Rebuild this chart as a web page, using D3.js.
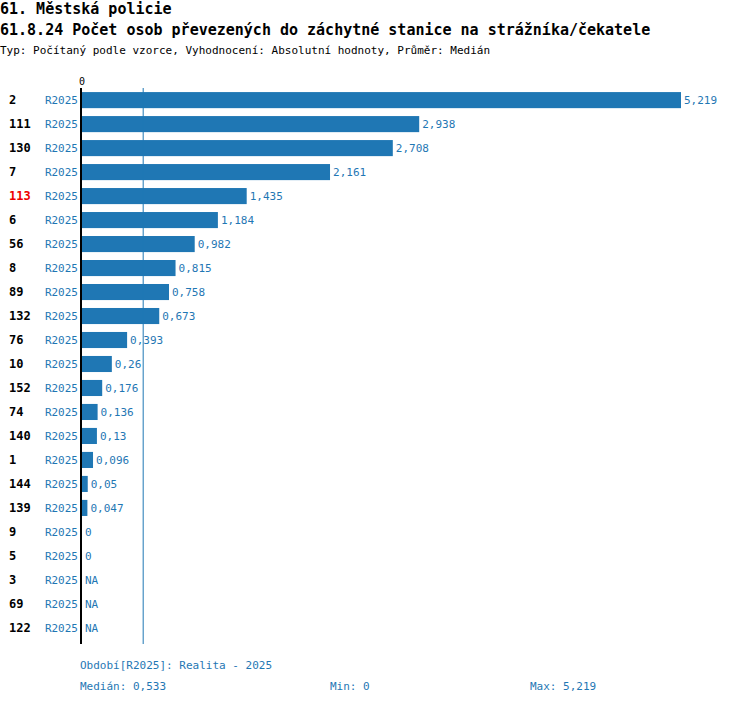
<!DOCTYPE html>
<html><head><meta charset="utf-8">
<script src="https://cdn.jsdelivr.net/npm/d3@7"></script>
<style>body{margin:0;background:#fff}text{font-family:"DejaVu Sans Mono",monospace}</style>
</head><body><div id="chart"></div>
<script>
var categories = ['2','111','130','7','113','6','56','8','89','132','76','10','152','74','140','1','144','139','9','5','3','69','122']
var values = [5.219,2.938,2.708,2.161,1.435,1.184,0.982,0.815,0.758,0.673,0.393,0.26,0.176,0.136,0.13,0.096,0.05,0.047,0,0,null,null,null]
var highlight = '113'
var period = 'R2025'
var median = 0.533, minV = 0, maxV = 5.219
var blue = '#1f77b4'

var svg = d3.select('#chart').append('svg').attr('width', 750).attr('height', 704)
var fmt = function (v) { return v === null ? 'NA' : String(v).replace('.', ',') }

svg.append('text').attr('x', 0).attr('y', 14).attr('font-size', 15).attr('font-weight', 'bold').text('61. Městská policie')
svg.append('text').attr('x', 0).attr('y', 35).attr('font-size', 15).attr('font-weight', 'bold').text('61.8.24 Počet osob převezených do záchytné stanice na strážníka/čekatele')
svg.append('text').attr('x', 0).attr('y', 54).attr('font-size', 11).text('Typ: Počítaný podle vzorce, Vyhodnocení: Absolutní hodnoty, Průměr: Medián')

var x = d3.scaleLinear().domain([0, maxV]).range([82, 681])
var y = d3.scaleBand().domain(categories).range([88, 88 + 24 * categories.length]).paddingInner(0.33).paddingOuter(0.17)

svg.append('text').attr('x', x(0)).attr('y', 85).attr('text-anchor', 'middle').attr('font-size', 10).text('0')

svg.selectAll('rect.bar').data(categories).enter().append('rect')
	.attr('x', x(0)).attr('y', function (d) { return y(d) })
	.attr('width', function (d, i) { return values[i] ? x(values[i]) - x(0) : 0 })
	.attr('height', y.bandwidth()).attr('fill', blue)

svg.append('line').attr('x1', x(median)).attr('x2', x(median)).attr('y1', 88).attr('y2', 644).attr('stroke', blue)
svg.append('line').attr('x1', 81).attr('x2', 81).attr('y1', 88).attr('y2', 644).attr('stroke', '#000').attr('stroke-width', 2)

var mid = function (d) { return y(d) + y.bandwidth() / 2 + 4 }
svg.selectAll('text.cat').data(categories).enter().append('text')
	.attr('x', 9).attr('y', mid).attr('font-size', 12).attr('font-weight', 'bold')
	.attr('fill', function (d) { return d === highlight ? '#e00' : '#000' }).text(function (d) { return d })
svg.selectAll('text.per').data(categories).enter().append('text')
	.attr('x', 78).attr('y', mid).attr('text-anchor', 'end').attr('font-size', 11).attr('fill', blue).text(period)
svg.selectAll('text.val').data(categories).enter().append('text')
	.attr('x', function (d, i) { return (values[i] ? x(values[i]) : x(0)) + 3 }).attr('y', mid)
	.attr('font-size', 11).attr('fill', blue).text(function (d, i) { return fmt(values[i]) })

svg.append('text').attr('x', 80).attr('y', 669).attr('font-size', 11).attr('fill', blue).text('Období[' + period + ']: Realita - 2025')
svg.append('text').attr('x', 80).attr('y', 690).attr('font-size', 11).attr('fill', blue).text('Medián: ' + fmt(median))
svg.append('text').attr('x', 330).attr('y', 690).attr('font-size', 11).attr('fill', blue).text('Min: ' + fmt(minV))
svg.append('text').attr('x', 530).attr('y', 690).attr('font-size', 11).attr('fill', blue).text('Max: ' + fmt(maxV))
</script></body></html>
